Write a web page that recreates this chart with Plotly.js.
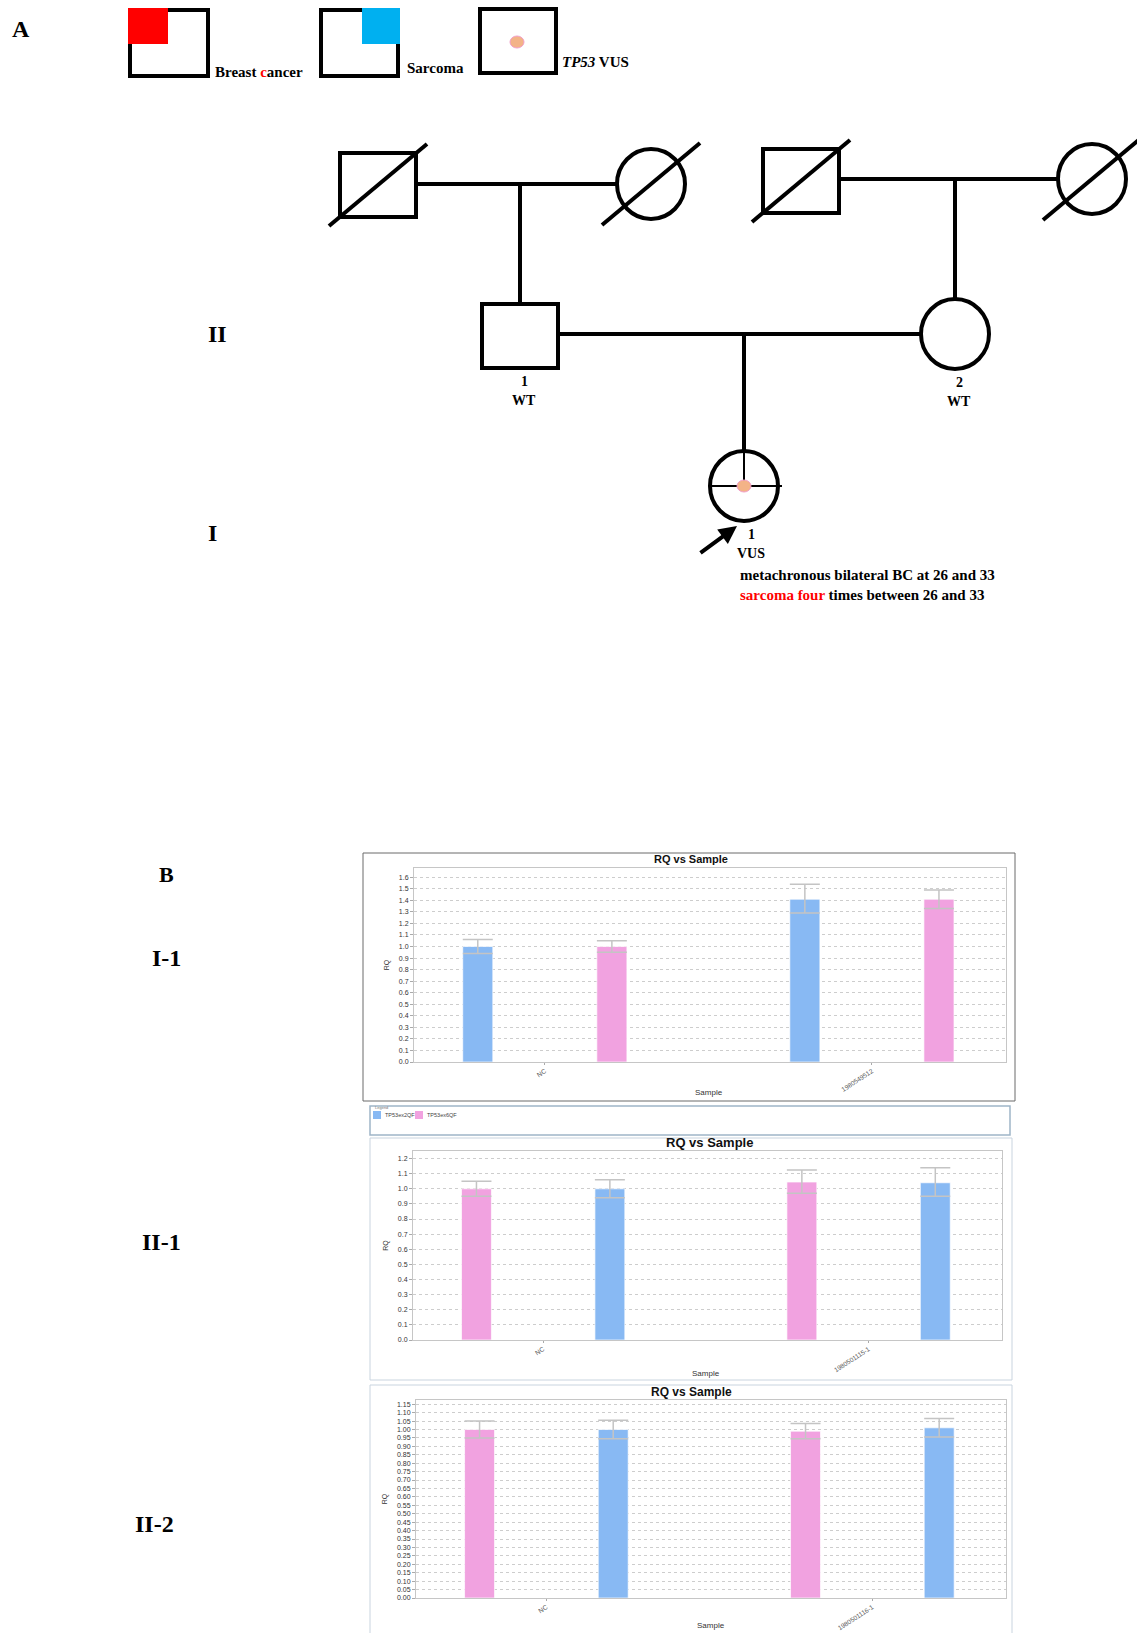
<!DOCTYPE html>
<html><head><meta charset="utf-8">
<script src="https://cdn.plot.ly/plotly-3.0.1.min.js"></script>
<style>html,body{margin:0;padding:0;background:#fff}#fig{width:1137px;height:1633px}</style>
</head><body><div id="fig"></div>
<script>
// ================= DATA =================
const seriesNames = ['TP53ex2QF', 'TP53ex6QF'];
// Panel B, I-1
const cats1 = ['NC', '1980549512'];
const i1_ex2 = [1.00, 1.41];
const i1_ex2_errPlus = [0.06, 0.13];
const i1_ex2_errMinus = [0.06, 0.12];
const i1_ex6 = [1.00, 1.41];
const i1_ex6_errPlus = [0.05, 0.08];
const i1_ex6_errMinus = [0.05, 0.08];
// Panel B, II-1
const cats2 = ['NC', '1980501115-1'];
const ii1_ex6 = [1.00, 1.045];
const ii1_ex6_errPlus = [0.05, 0.08];
const ii1_ex6_errMinus = [0.05, 0.075];
const ii1_ex2 = [1.00, 1.04];
const ii1_ex2_errPlus = [0.06, 0.10];
const ii1_ex2_errMinus = [0.06, 0.09];
// Panel B, II-2
const cats3 = ['NC', '1980501116-1'];
const ii2_ex6 = [1.00, 0.99];
const ii2_ex6_errPlus = [0.05, 0.045];
const ii2_ex6_errMinus = [0.05, 0.045];
const ii2_ex2 = [1.00, 1.01];
const ii2_ex2_errPlus = [0.055, 0.055];
const ii2_ex2_errMinus = [0.055, 0.055];

// Pedigree (panel A)
const pedIds      = ['I-1', 'I-2', 'I-3', 'I-4', 'II-1', 'II-2', 'III-1'];
const pedSex      = ['M', 'F', 'M', 'F', 'M', 'F', 'F'];
const pedDeceased = [true, true, true, true, false, false, false];
const pedNumber   = ['', '', '', '', '1', '2', '1'];
const pedGenotype = ['', '', '', '', 'WT', 'WT', 'VUS'];
const pedProband  = [false, false, false, false, false, false, true];
const pedCouples  = [[0, 1], [2, 3], [4, 5]];
const pedChildOf  = [4, 5, 6];
const genLabels   = ['II', 'I'];
const legendLabels = ['<b>Breast <span style="color:#ff0000">c</span>ancer</b>', '<b>Sarcoma</b>', '<b><i>TP53</i> VUS</b>'];
const note1 = '<b>metachronous bilateral BC at 26 and 33</b>';
const note2 = '<b><span style="color:#ff0000">sarcoma four</span> times between 26 and 33</b>';
const panelBLabels = ['I-1', 'II-1', 'II-2'];

// ================= LAYOUT (positions in page pixels) =================
const W = 1137, H = 1633;
const pedX = [378, 651, 801, 1092, 520, 955, 744];
const pedY = [185, 184, 181, 179, 336, 334, 486];
const SQ_HW = 38, SQ_HH = 32, CI_RX = 34, CI_RY = 35, LW = 4;

const BLUE = '#88b9f3', PINK = '#f1a2e0', ERR = '#c4c4c4';
const SERIF = 'Liberation Serif, Times New Roman, serif';
const SANS = 'Liberation Sans, Arial, sans-serif';

const shapes = [];
const annotations = [];
const P = {xref: 'x4', yref: 'y4'};

// pedigree individuals
for (let i = 0; i < pedIds.length; i++) {
  const cx = pedX[i], cy = pedY[i];
  if (pedSex[i] === 'M') {
    shapes.push({...P, type: 'rect', x0: cx - SQ_HW, x1: cx + SQ_HW, y0: cy - SQ_HH, y1: cy + SQ_HH, line: {color: '#000', width: LW}, fillcolor: 'rgba(0,0,0,0)'});
  } else {
    shapes.push({...P, type: 'circle', x0: cx - CI_RX, x1: cx + CI_RX, y0: cy - CI_RY, y1: cy + CI_RY, line: {color: '#000', width: LW}, fillcolor: 'rgba(0,0,0,0)'});
  }
  if (pedDeceased[i]) {
    shapes.push({...P, type: 'line', x0: cx - 49, y0: cy + 41, x1: cx + 49, y1: cy - 41, line: {color: '#000', width: LW}});
  }
  if (pedNumber[i]) {
    const hh = pedSex[i] === 'M' ? SQ_HH : CI_RY;
    annotations.push({...P, x: cx + (pedProband[i] ? 7 : 4), y: cy + hh + 13, text: '<b>' + pedNumber[i] + '</b>', showarrow: false, font: {family: SERIF, size: 14, color: '#000'}});
    annotations.push({...P, x: cx + (pedProband[i] ? 7 : 4), y: cy + hh + 32, text: '<b>' + pedGenotype[i] + '</b>', showarrow: false, font: {family: SERIF, size: 14, color: '#000'}});
  }
  if (pedProband[i]) {
    shapes.push({...P, type: 'line', x0: cx, y0: cy - CI_RY, x1: cx, y1: cy, line: {color: '#000', width: 2}});
    shapes.push({...P, type: 'line', x0: cx - CI_RX, y0: cy, x1: cx + CI_RX + 4, y1: cy, line: {color: '#000', width: 2}});
    shapes.push({...P, type: 'circle', x0: cx - 7, x1: cx + 7, y0: cy - 6, y1: cy + 6, fillcolor: '#f3b387', line: {color: '#f2a0c8', width: 1}});
    annotations.push({...P, x: cx - 7, y: cy + CI_RY + 5, ax: cx - 45, ay: cy + 68, axref: 'x4', ayref: 'y4', text: '', showarrow: true, arrowhead: 2, arrowsize: 0.9, arrowwidth: 4, arrowcolor: '#000'});
  }
}
// couples and descent lines
pedCouples.forEach((c, k) => {
  const m = c[0], f = c[1];
  const ly = pedY[f];
  shapes.push({...P, type: 'line', x0: pedX[m] + SQ_HW, x1: pedX[f] - CI_RX, y0: ly, y1: ly, line: {color: '#000', width: LW}});
  const ch = pedChildOf[k];
  const top = pedY[ch] - (pedSex[ch] === 'M' ? SQ_HH : CI_RY);
  shapes.push({...P, type: 'line', x0: pedX[ch], x1: pedX[ch], y0: ly, y1: top, line: {color: '#000', width: LW}});
});

// pedigree legend
const legBoxes = [[130, 208, 10, 76], [321, 398, 10, 76], [480, 556, 9, 73]];
legBoxes.forEach(b => shapes.push({...P, type: 'rect', x0: b[0], x1: b[1], y0: b[2], y1: b[3], line: {color: '#000', width: LW}, fillcolor: 'rgba(0,0,0,0)'}));
shapes.push({...P, type: 'rect', x0: 128, x1: 168, y0: 8, y1: 44, fillcolor: '#ff0000', line: {width: 0}});
shapes.push({...P, type: 'rect', x0: 362, x1: 400, y0: 8, y1: 44, fillcolor: '#00b0f0', line: {width: 0}});
shapes.push({...P, type: 'circle', x0: 510, x1: 524, y0: 36, y1: 48, fillcolor: '#f3b387', line: {color: '#f2a0c8', width: 1}});
const legTextPos = [[213, 72], [405, 68], [560, 62]];
legendLabels.forEach((t, i) => annotations.push({...P, x: legTextPos[i][0], y: legTextPos[i][1], xanchor: 'left', text: t, showarrow: false, font: {family: SERIF, size: 15, color: '#000'}}));

// panel / generation labels
const bigFont = {family: SERIF, size: 24, color: '#000'};
annotations.push({...P, x: 21, y: 29, text: '<b>A</b>', showarrow: false, font: bigFont});
annotations.push({...P, x: 217, y: 334, text: '<b>' + genLabels[0] + '</b>', showarrow: false, font: bigFont});
annotations.push({...P, x: 212, y: 533, text: '<b>' + genLabels[1] + '</b>', showarrow: false, font: bigFont});
annotations.push({...P, x: 738, y: 575, xanchor: 'left', text: note1, showarrow: false, font: {family: SERIF, size: 15, color: '#000'}});
annotations.push({...P, x: 738, y: 595, xanchor: 'left', text: note2, showarrow: false, font: {family: SERIF, size: 15, color: '#000'}});
annotations.push({...P, x: 166, y: 874, text: '<b>B</b>', showarrow: false, font: {family: SERIF, size: 22, color: '#000'}});
const bLabPos = [[166, 958], [161, 1242], [154, 1524]];
panelBLabels.forEach((t, i) => annotations.push({...P, x: bLabPos[i][0], y: bLabPos[i][1], text: '<b>' + t + '</b>', showarrow: false, font: bigFont}));

// chart frames & legend box
shapes.push({...P, type: 'rect', x0: 363, x1: 1015, y0: 853, y1: 1101, line: {color: '#6a6a6a', width: 1}, fillcolor: 'rgba(0,0,0,0)'});
shapes.push({...P, type: 'rect', x0: 370, x1: 1010, y0: 1106, y1: 1135, line: {color: '#9fb5c8', width: 1.5}, fillcolor: 'rgba(0,0,0,0)'});
shapes.push({...P, type: 'rect', x0: 370, x1: 1012, y0: 1138, y1: 1380, line: {color: '#c9d4df', width: 1}, fillcolor: 'rgba(0,0,0,0)'});
shapes.push({...P, type: 'rect', x0: 370, x1: 1012, y0: 1385, y1: 1645, line: {color: '#c9d4df', width: 1}, fillcolor: 'rgba(0,0,0,0)'});
annotations.push({...P, x: 373, y: 1107, xanchor: 'left', text: 'Legend', showarrow: false, font: {family: SANS, size: 4, color: '#777'}});
// series legend (drawn manually, compact like the instrument software)
const legSwX = [373, 415], legColors = ['#88b9f3', '#f1a2e0'];
seriesNames.forEach((n, i) => {
  shapes.push({...P, type: 'rect', x0: legSwX[i], x1: legSwX[i] + 8, y0: 1111, y1: 1119, fillcolor: legColors[i], line: {width: 0}});
  annotations.push({...P, x: legSwX[i] + 10, y: 1115, xanchor: 'left', text: n, showarrow: false, font: {family: SANS, size: 5.5, color: '#444'}});
});

// chart titles and x-axis titles
const chartTitlePos = [[691, 859, 11], [709, 1142, 13], [691, 1392, 12]];
chartTitlePos.forEach(p => annotations.push({...P, x: p[0], y: p[1], text: '<b>RQ vs Sample</b>', showarrow: false, font: {family: SANS, size: p[2], color: '#111'}}));
const xTitlePos = [[709, 1092], [706, 1373], [711, 1625]];
xTitlePos.forEach(p => annotations.push({...P, x: p[0], y: p[1], text: 'Sample', showarrow: false, font: {family: SANS, size: 8, color: '#333'}}));

// ================= TRACES =================
const BW = 0.092, OFF_L = -0.251, OFF_R = 0.159;
function barTrace(name, cats, vals, ep, em, color, xa, ya, off) {
  return {
    type: 'bar', name: name, x: cats, y: vals, xaxis: xa, yaxis: ya,
    width: BW, offset: off, showlegend: false,
    marker: {color: color, line: {color: 'rgba(255,255,255,0.7)', width: 1}},
    error_y: {type: 'data', symmetric: false, array: ep, arrayminus: em, color: ERR, thickness: 1.5, width: 15},
    hoverinfo: 'x+y+name'
  };
}
const traces = [
  barTrace(seriesNames[0], cats1, i1_ex2, i1_ex2_errPlus, i1_ex2_errMinus, BLUE, 'x', 'y', OFF_L),
  barTrace(seriesNames[1], cats1, i1_ex6, i1_ex6_errPlus, i1_ex6_errMinus, PINK, 'x', 'y', OFF_R),
  barTrace(seriesNames[1], cats2, ii1_ex6, ii1_ex6_errPlus, ii1_ex6_errMinus, PINK, 'x2', 'y2', OFF_L),
  barTrace(seriesNames[0], cats2, ii1_ex2, ii1_ex2_errPlus, ii1_ex2_errMinus, BLUE, 'x2', 'y2', OFF_R),
  barTrace(seriesNames[1], cats3, ii2_ex6, ii2_ex6_errPlus, ii2_ex6_errMinus, PINK, 'x3', 'y3', OFF_L),
  barTrace(seriesNames[0], cats3, ii2_ex2, ii2_ex2_errPlus, ii2_ex2_errMinus, BLUE, 'x3', 'y3', OFF_R),
  {type: 'scatter', x: [], y: [], xaxis: 'x4', yaxis: 'y4', showlegend: false, hoverinfo: 'skip'}
];

// ================= AXES =================
const tickFont = {family: SANS, size: 7, color: '#333'};
function xAx(dom, anchor) {
  return {domain: dom, anchor: anchor, type: 'category', range: [-0.4, 1.41], tickangle: -33,
    tickfont: {family: SANS, size: 6.5, color: '#555'}, ticks: 'outside', ticklen: 2, tickcolor: '#aaa',
    showline: true, mirror: true, linecolor: '#c6c6c6', linewidth: 1, showgrid: false, zeroline: false,
    automargin: false, fixedrange: true};
}
function yAx(dom, anchor, top, dt, fmt) {
  return {domain: dom, anchor: anchor, range: [0, top], dtick: dt, tickformat: fmt, tickfont: tickFont,
    ticks: 'outside', ticklen: 3, tickcolor: '#aaa', showline: true, mirror: true, linecolor: '#c6c6c6', linewidth: 1,
    showgrid: true, gridcolor: '#cdcdcd', griddash: 'dot', gridwidth: 1, zeroline: false, automargin: false, fixedrange: true,
    title: {text: 'RQ', font: {family: SANS, size: 7, color: '#333'}, standoff: 8}};
}
const layout = {
  width: W, height: H, margin: {l: 0, r: 0, t: 0, b: 0},
  paper_bgcolor: '#ffffff', plot_bgcolor: 'rgba(0,0,0,0)',
  barmode: 'overlay', showlegend: false,
  xaxis:  xAx([414 / W, 1006 / W], 'y'),
  yaxis:  yAx([1 - 1062 / H, 1 - 868 / H], 'x', 1.68, 0.1, '.1f'),
  xaxis2: xAx([413 / W, 1002 / W], 'y2'),
  yaxis2: yAx([1 - 1340 / H, 1 - 1151 / H], 'x2', 1.25, 0.1, '.1f'),
  xaxis3: xAx([416 / W, 1006 / W], 'y3'),
  yaxis3: yAx([1 - 1598 / H, 1 - 1400 / H], 'x3', 1.175, 0.05, '.2f'),
  xaxis4: {domain: [0, 1], anchor: 'y4', range: [0, W], visible: false, fixedrange: true},
  yaxis4: {domain: [0, 1], anchor: 'x4', range: [H, 0], visible: false, fixedrange: true},
  shapes: shapes, annotations: annotations
};
Plotly.newPlot('fig', traces, layout, {displayModeBar: false, staticPlot: true});
</script></body></html>
